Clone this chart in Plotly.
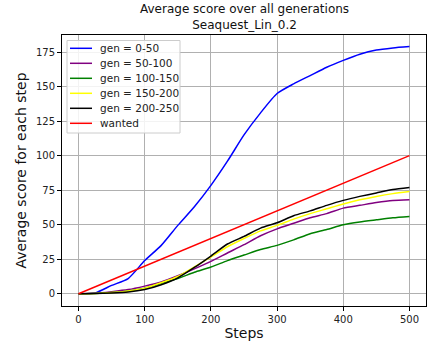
import plotly.graph_objects as go

steps = [0, 25, 50, 75, 100, 125, 150, 175, 200, 225, 250, 275, 300, 325, 350, 375, 400, 425, 450, 475, 500]

gen_0_50 = [0, 0.5, 6, 11, 24, 35, 49.5, 63, 78.5, 96, 115, 131, 145, 152, 158, 164, 169, 173.5, 176.5, 178, 179]
gen_50_100 = [0, 0.3, 1.5, 3, 5.5, 8.5, 13, 18, 23.4, 29.5, 35.5, 42, 47, 51, 55, 58, 62, 64, 66, 67.5, 68]
gen_100_150 = [0, 0.2, 0.8, 2, 4, 7.5, 11, 15.5, 19.3, 24, 28, 32, 35, 39, 43.5, 46.5, 50, 52, 53.5, 55, 56]
gen_150_200 = [0, 0.2, 0.8, 2, 4, 8, 12.5, 19.5, 26.5, 34, 40, 45.5, 49.5, 54, 58, 61.5, 65, 68, 70.5, 72.5, 74]
gen_200_250 = [0, 0.1, 0.5, 1.2, 3, 6.5, 11.5, 19, 27.3, 36, 41.5, 47.5, 51.4, 56.5, 60, 64, 67.6, 70.5, 73, 75.5, 77]
wanted_steps = [0, 500]
wanted = [0, 100]

series = [
    ("gen = 0-50", steps, gen_0_50, "#0000ff"),
    ("gen = 50-100", steps, gen_50_100, "#800080"),
    ("gen = 100-150", steps, gen_100_150, "#008000"),
    ("gen = 150-200", steps, gen_150_200, "#ffff00"),
    ("gen = 200-250", steps, gen_200_250, "#000000"),
    ("wanted", wanted_steps, wanted, "#ff0000"),
]

W, H = 431, 347
ML, MR, MT, MB = 62, 5, 35, 41
PW, PH = W - ML - MR, H - MT - MB


def px_x(px):
    return (px - ML) / PW


def px_y(py):
    return (H - MB - py) / PH


fig = go.Figure()
for name, xs, ys, color in series:
    fig.add_trace(go.Scatter(x=xs, y=ys, mode="lines", name=name, showlegend=False,
                             line=dict(color=color, width=1.5, shape="spline", smoothing=0.6)))

font = "DejaVu Sans"
axis_common = dict(
    showline=True, linecolor="black", linewidth=1, mirror=True,
    ticks="outside", ticklen=4, tickwidth=1, tickcolor="black",
    showgrid=True, gridcolor="#b0b0b0", gridwidth=1, zeroline=False,
    tickfont=dict(family=font, size=10, color="#222"),
)

# legend box (matplotlib style, compact spacing)
shapes = [dict(type="rect", xref="paper", yref="paper",
               x0=px_x(67), x1=px_x(180), y0=px_y(133), y1=px_y(40.5),
               fillcolor="rgba(255,255,255,0.85)", line=dict(color="#cccccc", width=1), layer="above")]
annotations = [dict(text="Average score over all generations<br>Seaquest_Lin_0.2",
                    x=0.5, y=1, xref="paper", yref="paper", xanchor="center", yanchor="bottom",
                    yshift=1, showarrow=False, font=dict(family=font, size=12, color="#111"))]
for i, (name, xs, ys, color) in enumerate(series):
    cy = 48.3 + 15 * i
    shapes.append(dict(type="line", xref="paper", yref="paper",
                       x0=px_x(70), x1=px_x(92), y0=px_y(cy), y1=px_y(cy),
                       line=dict(color=color, width=1.5), layer="above"))
    annotations.append(dict(text=name, x=px_x(98), y=px_y(cy), xref="paper", yref="paper",
                            xanchor="left", yanchor="middle", showarrow=False,
                            font=dict(family=font, size=10.5, color="#222")))

fig.update_layout(
    width=W, height=H,
    margin=dict(l=ML, r=MR, t=MT, b=MB),
    paper_bgcolor="white", plot_bgcolor="white",
    xaxis=dict(range=[-25, 525], tickvals=[0, 100, 200, 300, 400, 500],
               title=dict(text="Steps", font=dict(family=font, size=14, color="#111"), standoff=4),
               **axis_common),
    yaxis=dict(range=[-8.9, 187.4], tickvals=[0, 25, 50, 75, 100, 125, 150, 175],
               title=dict(text="Average score for each step", font=dict(family=font, size=14, color="#111"), standoff=6),
               **axis_common),
    shapes=shapes,
    annotations=annotations,
    showlegend=False,
)

fig.write_html("out.html")
